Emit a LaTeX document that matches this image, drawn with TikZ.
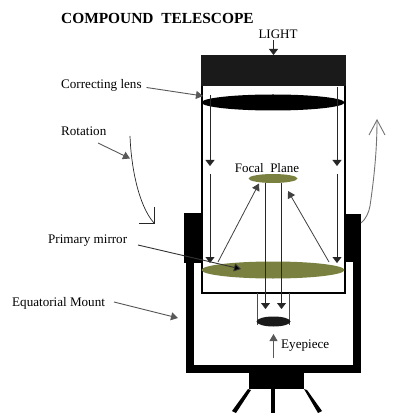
\documentclass[tikz,border=0pt]{standalone}
\usepackage{fontspec}
\setmainfont{Liberation Serif}
\usetikzlibrary{arrows.meta,shapes.geometric}
\definecolor{olivemirror}{HTML}{7A8040}
\definecolor{capblack}{HTML}{1A1A1A}
\tikzset{
  lab/.style={inner sep=0pt,anchor=west,font=\fontsize{13.1}{15}\selectfont,text=black},
  ray/.style={draw=black!85,line width=0.8pt,-{Triangle[width=9pt,length=6pt]}},
  lead/.style={draw=black!65,line width=0.9pt,-{Triangle[width=8pt,length=7pt]}},
  openarrow/.style={draw=black!55,line width=0.9pt},
  lensshape/.style={ellipse,inner sep=0pt,draw=none},
}
\begin{document}
\begin{tikzpicture}[x=1pt,y=-1pt]
\useasboundingbox (0,0) rectangle (400,419);
% mount
\fill[black] (184,213) rectangle (201,263);
\fill[black] (186,263) rectangle (194,373);
\fill[black] (186,365) rectangle (361,373);
\fill[black] (353,214) rectangle (361,373);
\fill[black] (344,214) rectangle (361,262);
\fill[black] (249,373) rectangle (304,389);
\fill[black] (271,389) rectangle (275,413);
\fill[black] (248,389) -- (251,390) -- (236,413) -- (232,411) -- cycle;
\fill[black] (304,389) -- (307,390) -- (322,411) -- (318,413) -- cycle;
% tube
\draw[black,line width=2.4pt,fill=white] (202.2,56) rectangle (344.8,293);
\fill[capblack] (201,55) rectangle (346,86.5);
% optics
\node[lensshape,fill=black,minimum width=143pt,minimum height=16pt] (lens) at (273,102.5) {};
\node[lensshape,fill=olivemirror,minimum width=49pt,minimum height=9pt] (focal) at (273,178.5) {};
\node[lensshape,fill=olivemirror,minimum width=143pt,minimum height=17pt] (mirror) at (273,270) {};
% eyepiece
\draw[black!70,line width=0.8pt] (257.5,293) -- (257.5,325) (289.5,293) -- (289.5,325);
\node[lensshape,fill=capblack,minimum width=34pt,minimum height=10pt] (eyelens) at (273.5,321.5) {};
% light rays
\coordinate (la) at (210,95); \coordinate (lb) at (210,166);
\coordinate (lc) at (210,174); \coordinate (ld) at (210,263);
\coordinate (ra) at (337,87); \coordinate (rb) at (337,166);
\coordinate (rc) at (337,174); \coordinate (rd) at (337,263);
\draw[ray] (la) -- (lb);
\draw[ray] (lc) -- (ld);
\draw[ray] (ra) -- (rb);
\draw[ray] (rc) -- (rd);
\coordinate (ia) at (265.5,183); \coordinate (ib) at (265.5,309);
\coordinate (ic) at (281.5,183); \coordinate (id) at (281.5,309);
\draw[ray] (ia) -- (ib);
\draw[ray] (ic) -- (id);
% reflected rays
\coordinate (da) at (218,262); \coordinate (db) at (259,183.5);
\coordinate (dc) at (329,262); \coordinate (dd) at (288,191);
\draw[lead,draw=black!75,line width=0.8pt] (da) -- (db);
\draw[lead,draw=black!75,line width=0.8pt] (dc) -- (dd);
% text
\node[inner sep=0pt,anchor=west,font=\bfseries\fontsize{15.4}{17}\selectfont] (title) at (61,18) {COMPOUND\ \ TELESCOPE};
\node[inner sep=0pt,font=\fontsize{13}{15}\selectfont] (light) at (278,34.5) {LIGHT};
\node[inner sep=0pt,font=\fontsize{13}{15}\selectfont] (focaltxt) at (267,168.5) {Focal\ \ Plane};
\node[lab] (cl) at (61,85) {Correcting lens};
\node[lab] (rot) at (61,131.5) {Rotation};
\node[lab] (pm) at (48,241) {Primary mirror};
\node[lab] (em) at (12,303) {Equatorial Mount};
\node[lab] (ep) at (281,346) {Eyepiece};
% leaders
\coordinate (lighta) at (273.5,40); \coordinate (lightb) at (273.5,55);
\draw[ray] (lighta) -- (lightb);
\coordinate (cla) at (146.5,87.5); \coordinate (clb) at (203,96);
\draw[lead] (cla) -- (clb);
\coordinate (rota) at (98,143); \coordinate (rotb) at (130,158.5);
\draw[lead] (rota) -- (rotb);
\coordinate (pma) at (138,245); \coordinate (pmb) at (241,269);
\draw[lead,draw=black!80,-{Triangle[width=8pt,length=7pt,fill=black]}] (pma) -- (pmb);
\coordinate (ema) at (114,302); \coordinate (emb) at (178,318);
\draw[lead] (ema) -- (emb);
\coordinate (epa) at (273.5,358); \coordinate (epb) at (273.5,334);
\draw[lead] (epa) -- (epb);
% rotation arrows
\coordinate (rs) at (130,136); \coordinate (re) at (154,223);
\draw[black!85,line width=0.7pt] (rs) .. controls (131,165) and (138,205) .. (re);
\draw[black!85,line width=0.7pt] (154,207) -- (re) -- (139,223);
\coordinate (qs) at (361,223); \coordinate (qe) at (377,120);
\draw[openarrow] (qs) .. controls (366,219) and (369,212) .. (370,206) .. controls (373,185) and (377,155) .. (qe);
\draw[openarrow] (369,135) -- (qe) -- (385,135);
\end{tikzpicture}
\end{document}
